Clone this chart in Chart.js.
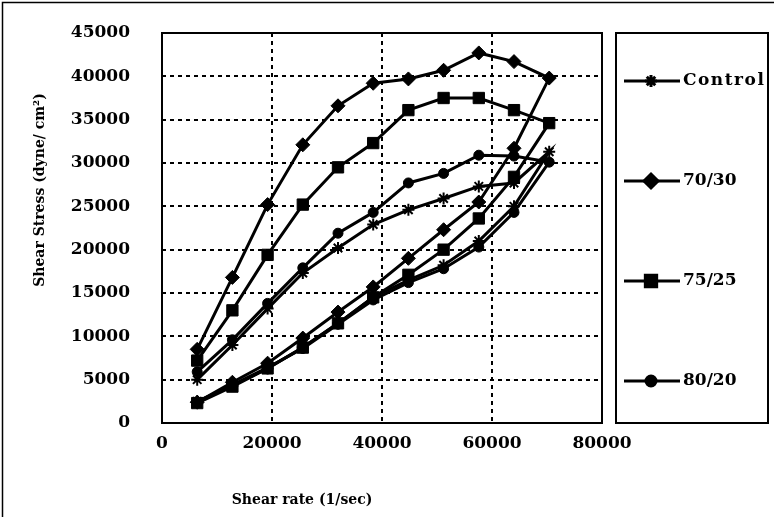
<!DOCTYPE html>
<html>
<head>
<meta charset="utf-8">
<script src="https://cdn.jsdelivr.net/npm/chart.js@4.4.1/dist/chart.umd.min.js"></script>
<style>
  html, body { margin: 0; padding: 0; background: #fff; }
  #wrap { width: 774px; height: 517px; }
</style>
</head>
<body>
<div id="wrap"><canvas id="loopChart" width="774" height="517"></canvas></div>
<script>
// shear rate steps (1/sec), same for the up and the down sweep
const shearRate = [6400, 12800, 19200, 25600, 32000, 38400, 44800, 51200, 57600, 64000, 70400];

// up sweep: low -> high rate (11 values); down sweep: high -> low rate, peak not repeated (10 values)
const controlUp = [5000, 9000, 13200, 17300, 20200, 22900, 24600, 25900, 27300, 27700, 31300];
const controlDown = [25000, 21000, 18200, 16500, 14500, 11500, 8700, 6300, 4300, 2500];
const b7030Up = [8500, 16800, 25200, 32100, 36600, 39200, 39700, 40700, 42700, 41700, 39800];
const b7030Down = [31700, 25500, 22300, 19000, 15700, 12800, 9800, 6900, 4700, 2400];
const b7525Up = [7200, 13000, 19400, 25200, 29500, 32300, 36100, 37500, 37500, 36100, 34600];
const b7525Down = [28400, 23600, 20000, 17100, 14500, 11500, 8700, 6300, 4200, 2300];
const b8020Up = [5900, 9600, 13800, 17900, 21900, 24300, 27700, 28800, 30900, 30800, 30100];
const b8020Down = [24300, 20300, 17800, 16200, 14200, 11400, 8600, 6400, 4400, 2400];

const seriesNames = ['Control', '70/30', '75/25', '80/20'];
const xTickValues = [0, 20000, 40000, 60000, 80000];
const yTickValues = [0, 5000, 10000, 15000, 20000, 25000, 30000, 35000, 40000, 45000];
const xTitle = 'Shear rate (1/sec)';
const yTitle = 'Shear Stress (dyne/ cm²)';

const FONT = "'DejaVu Serif', 'Liberation Serif', serif";

function loop(up, down) {
    const pts = up.map((v, i) => ({ x: shearRate[i], y: v }));
    down.forEach((v, i) => pts.push({ x: shearRate[shearRate.length - 2 - i], y: v }));
    return pts;
}

function series(label, up, down, style, radius) {
    return {
        label: label,
        data: loop(up, down),
        showLine: true,
        borderColor: '#000',
        backgroundColor: '#000',
        borderWidth: 3,
        pointStyle: style,
        pointRadius: radius,
        pointBorderWidth: style === 'star' ? 2 : 1,
        pointBackgroundColor: '#000',
        pointBorderColor: '#000',
        tension: 0
    };
}

const datasets = [
    series(seriesNames[0], controlUp, controlDown, 'star', 6),
    series(seriesNames[1], b7030Up, b7030Down, 'rectRot', 7),
    series(seriesNames[2], b7525Up, b7525Down, 'rect', 8),
    series(seriesNames[3], b8020Up, b8020Down, 'circle', 5)
];

// frame round the whole picture, solid plot border, axis titles, boxed legend on the right
const framePlugin = {
    id: 'frame',
    beforeDraw(chart) {
        const ctx = chart.ctx;
        ctx.save();
        ctx.fillStyle = '#fff';
        ctx.fillRect(0, 0, chart.width, chart.height);
        ctx.restore();
    },
    afterDraw(chart) {
        const ctx = chart.ctx;
        const a = chart.chartArea;
        ctx.save();
        ctx.strokeStyle = '#000';
        ctx.fillStyle = '#000';
        ctx.lineWidth = 2;
        ctx.strokeRect(a.left, a.top, a.right - a.left, a.bottom - a.top);
        ctx.lineWidth = 1.5;
        ctx.strokeRect(2.5, 2.5, 800, 516);

        // axis titles (sit left of centre in the original)
        ctx.font = 'bold 14px ' + FONT;
        ctx.textAlign = 'center';
        ctx.textBaseline = 'middle';
        ctx.fillText(xTitle, 302, 500);
        ctx.save();
        ctx.translate(40, 190);
        ctx.rotate(-Math.PI / 2);
        ctx.fillText(yTitle, 0, 0);
        ctx.restore();

        // legend
        const boxL = 616, boxR = 768, boxT = a.top, boxB = a.bottom;
        ctx.lineWidth = 2;
        ctx.strokeRect(boxL, boxT, boxR - boxL, boxB - boxT);
        ctx.font = 'bold 17px ' + FONT;
        ctx.textAlign = 'left';
        chart.data.datasets.forEach((ds, i) => {
            const y = 81 + i * 100;
            ctx.lineWidth = 3;
            ctx.beginPath();
            ctx.moveTo(624, y);
            ctx.lineTo(680, y);
            ctx.stroke();
            Chart.helpers.drawPoint(ctx, {
                pointStyle: ds.pointStyle,
                radius: ds.pointRadius,
                rotation: 0,
                borderWidth: ds.pointBorderWidth
            }, 651, y);
            ctx.fillStyle = '#000';
            ctx.strokeStyle = '#000';
            if ('letterSpacing' in ctx) ctx.letterSpacing = i === 0 ? '1.5px' : '0px';
            ctx.fillText(ds.label, 683, y);
        });
        ctx.restore();
    }
};

const gridColor = (edgeA, edgeB) => (c) =>
    (c.tick && (c.tick.value === edgeA || c.tick.value === edgeB)) ? 'rgba(0,0,0,0)' : '#000';

new Chart(document.getElementById('loopChart'), {
    type: 'scatter',
    data: { datasets: datasets },
    options: {
        responsive: false,
        animation: false,
        layout: { padding: { top: 33, right: 172, left: 0, bottom: 0 } },
        plugins: {
            legend: { display: false },
            tooltip: { enabled: false }
        },
        scales: {
            x: {
                type: 'linear',
                min: 0,
                max: 80000,
                afterBuildTicks: (axis) => { axis.ticks = xTickValues.map(v => ({ value: v })); },
                afterFit: (axis) => { axis.height = 94; },
                grid: { color: gridColor(0, 80000), lineWidth: 2, drawTicks: false },
                border: { display: false, dash: [4, 4] },
                ticks: {
                    color: '#000',
                    padding: 10,
                    maxRotation: 0,
                    autoSkip: false,
                    font: { family: FONT, size: 17, weight: 'bold' },
                    callback: (v) => String(v)
                }
            },
            y: {
                type: 'linear',
                min: 0,
                max: 45000,
                afterBuildTicks: (axis) => { axis.ticks = yTickValues.map(v => ({ value: v })); },
                afterFit: (axis) => {
                    axis.width = 162;
                    // the label gap would otherwise be added above the plot as well
                    axis.paddingTop = 10;
                    axis.paddingBottom = 10;
                },
                grid: { color: gridColor(0, 45000), lineWidth: 2, drawTicks: false },
                border: { display: false, dash: [4, 4] },
                ticks: {
                    color: '#000',
                    padding: 32,
                    autoSkip: false,
                    font: { family: FONT, size: 17, weight: 'bold' },
                    callback: (v) => String(v)
                }
            }
        }
    },
    plugins: [framePlugin]
});
</script>
</body>
</html>
